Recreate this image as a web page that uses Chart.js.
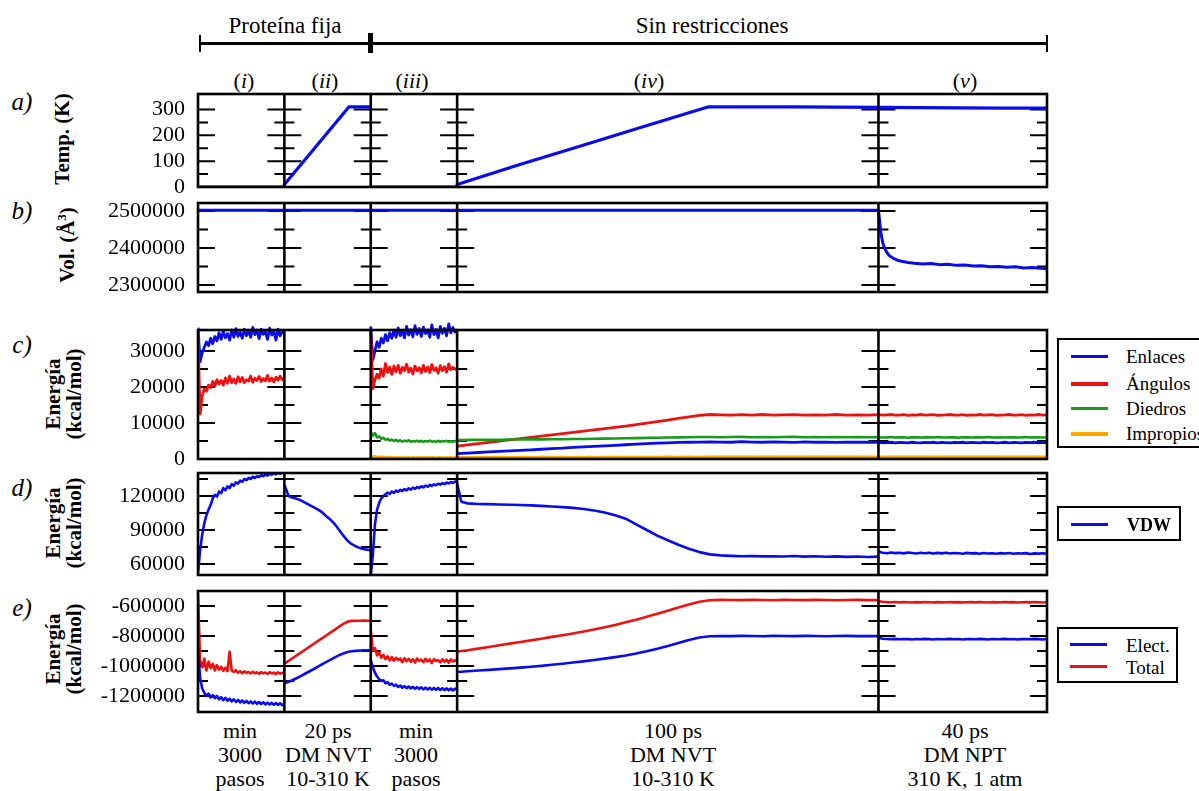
<!DOCTYPE html>
<html><head><meta charset="utf-8">
<script src="https://cdn.jsdelivr.net/npm/chart.js@4.4.1/dist/chart.umd.min.js"></script>
<style>
body{margin:0;background:#fff;width:1199px;height:791px;overflow:hidden;position:relative;font-family:'Liberation Serif','Times New Roman',serif;color:#000}
canvas{position:absolute;left:0}
.t{position:absolute;transform:translate(-50%,-50%);white-space:nowrap;font-size:22px;line-height:1;font-family:'Liberation Serif',serif}
.lab{position:absolute;transform:translate(-50%,-50%);font-style:italic;font-size:25px;line-height:1}
.rot{position:absolute;transform:translate(-50%,-50%) rotate(-90deg);white-space:nowrap;font-size:21px;font-weight:bold;line-height:21px;text-align:center}
.bl{position:absolute;transform:translateX(-50%);text-align:center;font-size:22px;line-height:24px;white-space:nowrap}
.hl{position:absolute;background:#000}
.lg{position:absolute;border:2px solid #000;box-sizing:border-box;background:#fff}
.lg .ln{position:absolute;height:3px}
.lg .tx{position:absolute;font-size:19px;line-height:1;transform:translateY(-50%);white-space:nowrap}
i{font-style:italic}
</style></head><body>

<!-- top brackets -->
<div class="hl" style="left:200px;top:42px;width:847px;height:3px"></div>
<div class="hl" style="left:199px;top:35px;width:2px;height:17px"></div>
<div class="hl" style="left:1046px;top:35px;width:2px;height:17px"></div>
<div class="hl" style="left:368px;top:33px;width:5px;height:20px"></div>
<div class="t" style="left:285px;top:25px;font-size:23px">Proteína fija</div>
<div class="t" style="left:712px;top:25px;font-size:23px">Sin restricciones</div>

<div class="t" style="left:244px;top:81px">(<i>i</i>)</div>
<div class="t" style="left:325px;top:81px">(<i>ii</i>)</div>
<div class="t" style="left:412px;top:81px">(<i>iii</i>)</div>
<div class="t" style="left:649px;top:81px">(<i>iv</i>)</div>
<div class="t" style="left:965px;top:81px">(<i>v</i>)</div>

<div class="lab" style="left:22px;top:101px">a)</div>
<div class="lab" style="left:22px;top:210px">b)</div>
<div class="lab" style="left:22px;top:344px">c)</div>
<div class="lab" style="left:22px;top:487px">d)</div>
<div class="lab" style="left:22px;top:607px">e)</div>

<div class="rot" style="left:62px;top:139px">Temp. (K)</div>
<div class="rot" style="left:64px;top:245px">Vol. (Å<sup style="font-size:13px">3</sup>)</div>
<div class="rot" style="left:64px;top:394px">Energía<br>(kcal/mol)</div>
<div class="rot" style="left:64px;top:523px">Energía<br>(kcal/mol)</div>
<div class="rot" style="left:64px;top:649px">Energía<br>(kcal/mol)</div>

<div class="bl" style="left:240px;top:719px">min<br>3000<br>pasos</div>
<div class="bl" style="left:328px;top:719px">20 ps<br>DM NVT<br>10-310 K</div>
<div class="bl" style="left:416px;top:719px">min<br>3000<br>pasos</div>
<div class="bl" style="left:673px;top:719px">100 ps<br>DM NVT<br>10-310 K</div>
<div class="bl" style="left:965px;top:719px">40 ps<br>DM NPT<br>310 K, 1 atm</div>

<canvas id="cA"></canvas>
<canvas id="cB"></canvas>
<canvas id="cC"></canvas>
<canvas id="cD"></canvas>
<canvas id="cE"></canvas>

<div class="lg" style="left:1057px;top:338px;width:160px;height:110px">
  <div class="ln" style="left:12px;top:15px;width:37px;background:#0a0aee"></div><div class="tx" style="left:67px;top:16px">Enlaces</div>
  <div class="ln" style="left:12px;top:42px;width:37px;height:4px;background:#ee1111"></div><div class="tx" style="left:67px;top:43px">Ángulos</div>
  <div class="ln" style="left:12px;top:67px;width:37px;background:#1a9a1a"></div><div class="tx" style="left:67px;top:68px">Diedros</div>
  <div class="ln" style="left:12px;top:92px;width:37px;height:4px;background:#ffa500"></div><div class="tx" style="left:67px;top:93px">Impropios</div>
</div>
<div class="lg" style="left:1057px;top:506px;width:124px;height:35px">
  <div class="ln" style="left:12px;top:15px;width:37px;background:#0a0aee"></div><div class="tx" style="left:68px;top:17px;font-weight:bold;font-size:18px">VDW</div>
</div>
<div class="lg" style="left:1057px;top:627px;width:121px;height:56px">
  <div class="ln" style="left:11px;top:14px;width:37px;background:#0a0aee"></div><div class="tx" style="left:67px;top:16px">Elect.</div>
  <div class="ln" style="left:11px;top:36px;width:37px;background:#ee1111"></div><div class="tx" style="left:67px;top:38px">Total</div>
</div>

<script>
// ---------- x sample positions per segment ----------
const segBounds = [20.5, 41, 61.5, 161.5];
const xI = [0,0.5,1,1.5,2,2.5,3,3.5,4,4.5,5,5.5,6,6.5,7,7.5,8,8.5,9,9.5,10,10.5,11,11.5,12,12.5,13,13.5,14,14.5,15,15.5,16,16.5,17,17.5,18,18.5,19,19.5,20,20.5];
const xII = [20.5,21.5,22.5,23.5,24.5,25.5,26.5,27.5,28.5,29.5,30.5,31.5,32.5,33.5,34.5,35.5,36.5,37.5,38.5,39.5,40.5,41];
const xIII = [41,41.5,42,42.5,43,43.5,44,44.5,45,45.5,46,46.5,47,47.5,48,48.5,49,49.5,50,50.5,51,51.5,52,52.5,53,53.5,54,54.5,55,55.5,56,56.5,57,57.5,58,58.5,59,59.5,60,60.5,61,61.5];
const xIV = [61.5,62.5,64,66.5,69,71.5,74,76.5,79,81.5,84,86.5,89,91.5,94,96.5,99,101.5,104,106.5,109,111.5,114,116.5,119,121.5,124,126.5,129,131.5,134,136.5,139,141.5,144,146.5,149,151.5,154,156.5,159,161.5];
const xV = [161.5,162.5,163.5,164.5,165.5,166.5,167.5,168.5,169.5,170.5,171.5,172.5,173.5,174.5,175.5,176.5,177.5,178.5,179.5,180.5,181.5,182.5,183.5,184.5,185.5,186.5,187.5,188.5,189.5,190.5,191.5,192.5,193.5,194.5,195.5,196.5,197.5,198.5,199.5,200.5,201.5];

// ---------- a) temperature ----------
const tempX = [0,20.5,20.5,35.8,41,41,41,61.5,61.5,76,91,106,121,141,161.5,171,181,191,201.5];
const tempY = [0,0,10,310,310,null,0,0,10,85,160,235,310,310,308,307,306,305,305];
const tempTicks = [0,100,200,300];
const tempMinor = [50,150,250];

// ---------- b) volume ----------
const volX = [0,61.5,161.5,161.8,162.1,162.5,163,163.5,164,165,166,167,168.5,170,172,174,176,178,180,182,184,186,188,190,192,194,196,198,200,201.5];
const volY = [2502000,2502000,2502000,2470000,2440000,2415000,2398000,2388000,2380000,2372000,2367000,2364000,2361000,2359000,2357000,2358000,2355000,2356000,2353000,2354000,2351000,2352000,2349000,2350000,2348000,2349000,2346000,2347000,2345000,2344000];
const volTicks = [2300000,2400000,2500000];
const volMinor = [2350000,2450000];

// ---------- c) bonded energies ----------
const enlacesI = [36500,27000,29500,31000,32500,31500,33500,32000,34000,32800,35000,33200,35500,33600,34800,33000,35800,33800,36200,34000,35200,33500,36000,34200,35500,33800,36500,34500,35800,33400,36000,34600,35400,33200,36300,34400,35600,33000,36000,34200,35500,34800];
const enlacesIII = [36800,27500,30000,32500,31000,33500,32200,34500,32800,35000,33500,35800,33800,36400,34200,35600,33600,36800,34400,35900,33900,37000,34600,36200,34000,36600,34800,35800,33800,37200,34500,36000,33600,36800,34900,36300,34200,37500,35000,36500,35200,36000];
const enlacesIV = [1500,1550,1650,1800,1950,2100,2250,2400,2550,2700,2900,3000,3200,3350,3500,3650,3800,3950,4100,4250,4400,4500,4600,4650,4700,4750,4700,4650,4800,4700,4650,4750,4700,4600,4750,4650,4700,4600,4700,4650,4700,4650];
const enlacesV = [4600,4500,4550,4650,4500,4600,4550,4500,4650,4550,4500,4600,4550,4650,4500,4600,4550,4500,4600,4550,4650,4500,4600,4550,4500,4650,4550,4600,4500,4550,4650,4500,4600,4550,4500,4600,4550,4650,4500,4600,4550];
const angulosI = [34000,12500,17500,19500,18800,20500,19800,21500,20200,22000,20800,21800,20500,22500,21000,23000,21200,22200,21000,22800,21400,22600,21200,22000,21600,23000,21300,22400,21800,22900,21500,22300,21700,23200,21600,22500,21400,22700,21900,23000,22000,22400];
const angulosIII = [35000,19500,22000,23500,22500,25000,23000,26500,24000,25500,23500,25800,24200,26000,23800,25400,24500,26300,24100,25200,23600,25800,24400,25300,23900,26000,24300,25500,24000,26200,24600,25300,23800,25900,24500,25600,24100,26400,24800,25400,25000,24600];
const angulosIV = [3500,3700,3900,4250,4600,4950,5300,5650,6000,6350,6700,7050,7400,7750,8100,8450,8800,9150,9550,9950,10350,10800,11250,11700,12100,12350,12250,12150,12300,12200,12350,12150,12250,12300,12150,12250,12200,12350,12150,12250,12200,12300];
const angulosV = [12300,12150,12250,12350,12150,12200,12300,12100,12250,12200,12350,12150,12250,12300,12100,12200,12250,12350,12150,12200,12300,12100,12250,12200,12350,12150,12250,12300,12100,12200,12250,12350,12150,12200,12300,12100,12250,12200,12350,12150,12250];
const diedrosIII = [7500,6500,7200,6000,6300,5600,5900,5300,5600,5100,5400,5000,5300,4900,5200,4800,5100,4900,5200,4800,5000,4850,5100,4800,5050,4750,5000,4850,5100,4800,4950,4750,5050,4800,5000,4850,5050,4750,4950,4800,5000,4900];
const diedrosIV = [5200,5250,5300,5300,5350,5350,5400,5400,5450,5450,5500,5500,5550,5550,5600,5650,5700,5750,5800,5850,5900,5950,6000,6050,6100,6100,6050,6100,6150,6050,6100,6050,6100,6150,6050,6100,6050,6100,6050,6100,6050,6100];
const diedrosV = [6050,5950,6000,6100,5950,6000,6050,5900,6000,6050,5950,6050,6000,5950,6100,6000,5950,6050,6000,5900,6050,6000,5950,6050,6000,5950,6100,6000,5950,6050,5950,6000,6050,5950,6000,6100,5950,6000,6050,5950,6000];
const impropiosIII = [900,600,750,500,650,450,600,400,550,400,500,350,500,400,450,350,500,400,450,350,450,400,500,350,450,400,500,350,450,400,450,350,500,400,450,350,450,400,500,350,450,400];
const impropiosIV = [450,500,450,500,480,520,470,510,480,520,490,530,500,540,500,550,520,560,530,570,540,580,560,590,570,600,580,610,590,600,580,610,590,600,580,610,590,600,580,610,590,600];
const impropiosV = [600,580,610,590,600,620,580,600,610,590,600,580,620,600,590,610,580,600,620,590,600,580,610,600,590,620,580,600,610,590,600,580,620,600,590,610,580,600,620,590,600];
const enerTicks = [0,10000,20000,30000];
const enerMinor = [5000,15000,25000];

// ---------- d) VDW ----------
const vdwI = [52000,72000,86000,96000,103000,108000,112000,118000,121000,119500,124000,122500,127000,125000,128500,127000,130500,129000,132000,131000,133500,132500,135000,134000,136000,135000,137000,136000,137500,136800,138300,137500,139000,138000,139500,138800,140000,139200,140500,139600,140800,140200];
const vdwII = [130000,120000,118500,117500,116000,114000,112000,110000,108000,105500,102000,99000,95000,90000,85000,80500,77500,75500,74000,73000,72500,72300];
const vdwIII = [50000,68000,95000,108000,114000,118000,120000,121500,123000,121800,124000,122800,124800,123600,125500,124400,126200,125000,126800,125600,127400,126300,128000,127000,128600,127600,129200,128200,129800,128800,130300,129400,130900,130000,131400,130500,131900,131000,132400,131500,132800,132000];
const vdwIV = [131000,115000,113500,113000,112800,112500,112300,112000,111700,111300,110800,110200,109500,108500,107200,105500,103000,100000,95000,90000,85000,81000,77000,73500,70500,68500,67600,67200,66900,67100,66700,66900,66600,67000,66500,66800,66400,66700,66300,66600,66200,66500];
const vdwV = [71000,70000,69500,70200,69600,70000,69400,70100,69700,69300,70000,69500,69900,69200,69800,69400,70000,69300,69700,69500,69100,69800,69400,69600,69000,69700,69300,69500,69100,69600,69200,69700,69000,69500,69300,69600,68900,69400,69200,69500,69100];
const vdwTicks = [60000,90000,120000];
const vdwMinor = [75000,105000,135000];

// ---------- e) electrostatic / total ----------
const electI = [-880000,-1080000,-1150000,-1180000,-1200000,-1185000,-1210000,-1195000,-1215000,-1200000,-1222000,-1208000,-1228000,-1212000,-1232000,-1218000,-1236000,-1222000,-1240000,-1226000,-1243000,-1230000,-1246000,-1233000,-1248000,-1236000,-1250000,-1238000,-1252000,-1240000,-1254000,-1242000,-1256000,-1244000,-1257000,-1246000,-1259000,-1247000,-1260000,-1249000,-1261000,-1252000];
const electII = [-1115000,-1105000,-1093000,-1080000,-1066000,-1050000,-1035000,-1020000,-1004000,-988000,-972000,-957000,-942000,-928000,-916000,-907000,-902000,-899000,-897000,-896000,-895000,-895000];
const electIII = [-960000,-1010000,-1045000,-1070000,-1088000,-1100000,-1095000,-1115000,-1108000,-1125000,-1118000,-1132000,-1124000,-1140000,-1130000,-1145000,-1134000,-1148000,-1137000,-1150000,-1139000,-1152000,-1141000,-1154000,-1142000,-1156000,-1144000,-1157000,-1145000,-1158000,-1146000,-1159000,-1147000,-1160000,-1148000,-1161000,-1149000,-1162000,-1150000,-1163000,-1151000,-1158000];
const electIV = [-1040000,-1038000,-1035000,-1030000,-1026000,-1021000,-1016000,-1011000,-1005000,-999000,-992000,-985000,-977000,-969000,-960000,-951000,-941000,-930000,-917000,-902000,-885000,-866000,-846000,-826000,-810000,-802000,-800000,-801000,-799000,-800000,-802000,-799000,-800000,-801000,-799000,-800000,-802000,-800000,-799000,-801000,-800000,-801000];
const electV = [-812000,-818000,-820000,-821000,-819000,-822000,-820000,-821000,-823000,-820000,-822000,-819000,-821000,-823000,-820000,-822000,-821000,-819000,-822000,-820000,-823000,-821000,-820000,-822000,-819000,-821000,-823000,-820000,-822000,-821000,-819000,-822000,-820000,-823000,-821000,-820000,-822000,-819000,-821000,-823000,-821000];
const totalI = [-520000,-960000,-1010000,-950000,-1030000,-970000,-1015000,-985000,-1030000,-995000,-1025000,-1005000,-1032000,-1012000,-1035000,-905000,-1030000,-1040000,-1028000,-1045000,-1035000,-1048000,-1036000,-1046000,-1040000,-1050000,-1038000,-1048000,-1042000,-1052000,-1040000,-1049000,-1043000,-1053000,-1041000,-1050000,-1044000,-1054000,-1042000,-1051000,-1045000,-1052000];
const totalII = [-985000,-966000,-947000,-928000,-909000,-890000,-871000,-852000,-833000,-814000,-795000,-776000,-757000,-738000,-719000,-704000,-699000,-698000,-698000,-697000,-698000,-698000];
const totalIII = [-760000,-900000,-880000,-930000,-910000,-945000,-925000,-955000,-935000,-962000,-940000,-965000,-945000,-960000,-950000,-975000,-948000,-968000,-952000,-972000,-955000,-978000,-950000,-966000,-958000,-975000,-952000,-970000,-956000,-980000,-954000,-968000,-960000,-976000,-955000,-972000,-958000,-978000,-956000,-970000,-962000,-968000];
const totalIV = [-905000,-900000,-895000,-884000,-873000,-862000,-851000,-840000,-829000,-818000,-806000,-795000,-783000,-770000,-757000,-742000,-726000,-709000,-691000,-672000,-652000,-631000,-610000,-590000,-572000,-562000,-559000,-560000,-561000,-559000,-560000,-562000,-559000,-560000,-561000,-559000,-560000,-562000,-560000,-559000,-561000,-560000];
const totalV = [-568000,-572000,-574000,-575000,-573000,-576000,-574000,-575000,-577000,-574000,-576000,-573000,-575000,-577000,-574000,-576000,-575000,-573000,-576000,-574000,-577000,-575000,-574000,-576000,-573000,-575000,-577000,-574000,-576000,-575000,-573000,-576000,-574000,-577000,-575000,-574000,-576000,-573000,-575000,-577000,-575000];
const eTicks = [-1200000,-1000000,-800000,-600000];
const eMinor = [-1100000,-900000,-700000];

// ---------- helpers ----------
const BLUE = '#0a0aee', RED = '#ee1111', GREEN = '#1a9a1a', ORANGE = '#ffa500';
function pts(xs, ys){ return xs.map((x,k)=>({x:x, y:ys[k]})); }
function segs(...parts){
  const out = [];
  parts.forEach((p,k)=>{ if(k>0) out.push({x:p[0][0], y:null}); out.push(...pts(p[0],p[1])); });
  return out;
}
function ds(data, color, w, extra){
  return Object.assign({data:data, borderColor:color, borderWidth:w, pointRadius:0, tension:0, fill:false, spanGaps:false, borderJoinStyle:'round'}, extra||{});
}

const PAD = 16;
function makePanel(id, top, bottom, ymin, ymax, major, minor, datasets){
  const cv = document.getElementById(id);
  cv.width = 1199; cv.height = bottom - top + 2*PAD;
  cv.style.top = (top - PAD) + 'px';
  const framePlugin = {
    id:'frame_'+id,
    beforeDatasetsDraw(chart){
      const {ctx, chartArea:a, scales:{x,y}} = chart;
      const xs = segBounds.map(v=>x.getPixelForValue(v));
      ctx.save(); ctx.strokeStyle='#000'; ctx.lineWidth=2;
      const draw=(vals,len)=>vals.forEach(v=>{
        const py = y.getPixelForValue(v);
        ctx.beginPath();
        ctx.moveTo(a.left,py); ctx.lineTo(a.left+len,py);
        ctx.moveTo(a.right-len,py); ctx.lineTo(a.right,py);
        xs.forEach(px=>{ctx.moveTo(px-len,py); ctx.lineTo(px+len,py);});
        ctx.stroke();
      });
      draw(major,17); draw(minor,10);
      ctx.restore();
    },
    afterDatasetsDraw(chart){
      const {ctx, chartArea:a, scales:{x}} = chart;
      ctx.save(); ctx.strokeStyle='#000'; ctx.lineWidth=2.6;
      ctx.strokeRect(a.left, a.top, a.right-a.left, a.bottom-a.top);
      segBounds.forEach(v=>{ const px=x.getPixelForValue(v); ctx.beginPath(); ctx.moveTo(px,a.top); ctx.lineTo(px,a.bottom); ctx.stroke(); });
      ctx.restore();
    }
  };
  const chart = new Chart(cv, {
    type:'line',
    data:{datasets:datasets},
    options:{
      responsive:false, animation:false, devicePixelRatio:1,
      layout:{padding:{left:0,right:152,top:PAD,bottom:PAD}},
      plugins:{legend:{display:false}, tooltip:{enabled:false}},
      scales:{
        x:{type:'linear', min:0, max:201.5, display:false},
        y:{type:'linear', min:ymin, max:ymax,
           afterBuildTicks:(s)=>{ s.ticks = major.map(v=>({value:v})); },
           afterFit:(s)=>{ s.width = 198; s.paddingTop = 0; s.paddingBottom = 0; },
           grid:{display:false, drawTicks:false}, border:{display:false},
           ticks:{autoSkip:false, padding:13, color:'#000', font:{family:"'Liberation Serif', serif", size:22}, callback:(v)=>String(v)}}
      }
    },
    plugins:[framePlugin]
  });
  // make the plot area land exactly on [top, bottom]
  const ca = chart.chartArea;
  const dt = ca.top - PAD, db = (cv.height - PAD) - ca.bottom;
  if (Math.abs(dt) > 0.5 || Math.abs(db) > 0.5) {
    chart.options.layout.padding = {left:0, right:152, top:PAD - dt, bottom:PAD - db};
    chart.update();
  }
  return chart;
}

makePanel('cA', 94, 187, 0, 360, tempTicks, tempMinor, [
  ds(pts(tempX,tempY), BLUE, 3.2)
]);
makePanel('cB', 203, 292, 2281000, 2521600, volTicks, volMinor, [
  ds(pts(volX,volY), BLUE, 3)
]);
makePanel('cC', 330, 459, 0, 35800, enerTicks, enerMinor, [
  ds(segs([xIII,impropiosIII],[xIV,impropiosIV],[xV,impropiosV]), ORANGE, 2.6),
  ds(segs([xIII,diedrosIII],[xIV,diedrosIV],[xV,diedrosV]), GREEN, 2.6),
  ds(segs([xI,angulosI],[xIII,angulosIII],[xIV,angulosIV],[xV,angulosV]), RED, 2.8, {clip:{left:0,top:14,right:0,bottom:0}}),
  ds(segs([xI,enlacesI],[xIII,enlacesIII],[xIV,enlacesIV],[xV,enlacesV]), BLUE, 2.8, {clip:{left:0,top:14,right:0,bottom:0}})
]);
makePanel('cD', 473, 575, 50300, 140300, vdwTicks, vdwMinor, [
  ds(segs([xI,vdwI],[xII,vdwII],[xIII,vdwIII],[xIV,vdwIV],[xV,vdwV]), BLUE, 2.6)
]);
makePanel('cE', 591, 712, -1306700, -500000, eTicks, eMinor, [
  ds(segs([xI,electI],[xII,electII],[xIII,electIII],[xIV,electIV],[xV,electV]), BLUE, 2.6),
  ds(segs([xI,totalI],[xII,totalII],[xIII,totalIII],[xIV,totalIV],[xV,totalV]), RED, 2.6)
]);
</script>
</body></html>
